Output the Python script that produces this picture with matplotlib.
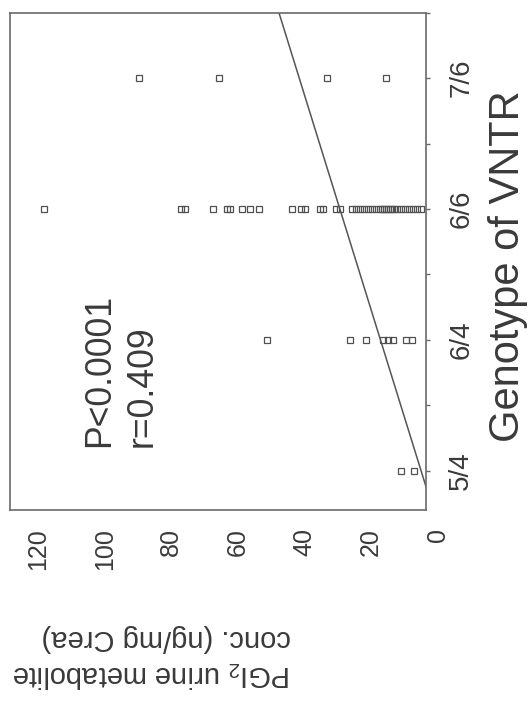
import matplotlib
matplotlib.use("Agg")
import matplotlib.pyplot as plt
import matplotlib.transforms as mtransforms
import numpy as np

plt.rcParams['font.family'] = ['Liberation Sans', 'DejaVu Sans']
plt.rcParams['mathtext.fontset'] = 'custom'
plt.rcParams['mathtext.rm'] = 'Liberation Sans'
plt.rcParams['mathtext.it'] = 'Liberation Sans:italic'

# genotype groups along the (rotated) x axis, PGI2 metabolite values per group
genotypes = ["5/4", "6/4", "6/6", "7/6"]
conc_54 = [7.6, 3.5]
conc_64 = [47.9, 22.8, 18.0, 12.8, 11.4, 9.9, 6.0, 4.3]
conc_66 = [114.8, 73.5, 72.3, 63.9, 59.8, 58.9, 55.4, 52.9, 50.2, 40.4,
           37.6, 36.4, 32.0, 31.0, 27.0, 26.0, 22.2, 21.0, 19.8, 18.6,
           17.4, 16.2, 15.0, 13.8, 13.2, 12.6, 12.0, 11.4, 10.8, 10.2,
           9.6, 8.7, 7.5, 6.3, 5.1, 3.9, 2.7, 1.5]
conc_76 = [86.4, 62.1, 29.8, 12.0]
fit_slope = 12.2
fit_intercept = -10.7
conc_ticks = [0, 20, 40, 60, 80, 100, 120]

ink = '#3a3a3a'
frame = '#6a6a6a'

fig = plt.figure(figsize=(5.29, 7.06), dpi=100)
ax = fig.add_axes([0.019, 0.2776, 0.7864, 0.7044])

groups = [conc_54, conc_64, conc_66, conc_76]
for i, vals in enumerate(groups):
    ax.plot(vals, [i + 1] * len(vals), ls='none', marker='s', ms=3.8,
            mfc='none', mec='#505050', mew=0.9)

g = np.array([-fit_intercept / fit_slope, 4.5])
ax.plot(fit_intercept + fit_slope * g, g, color='#555555', lw=1.1)

ax.set_xlim(125, 0)
ax.set_ylim(0.7, 4.5)

for sp in ax.spines.values():
    sp.set_color(frame)
    sp.set_linewidth(1.2)

ax.set_xticks(conc_ticks)
ax.tick_params(axis='x', length=0, pad=13, labelsize=18, labelrotation=90,
               labelcolor=ink)
offset = mtransforms.ScaledTranslation(11.5 / 100, 0, fig.dpi_scale_trans)
for lab in ax.get_xticklabels():
    lab.set_transform(lab.get_transform() + offset)

ax.yaxis.tick_right()
ax.set_yticks([1, 2, 3, 4], genotypes)
ax.set_yticks([1.5, 2.5, 3.5, 4.5], minor=True)
ax.tick_params(axis='y', which='both', direction='out', length=3, width=1,
               color=frame, labelsize=20, pad=13, labelrotation=90,
               labelcolor=ink)
for lab in ax.get_yticklabels():
    lab.set_va('center')

ax.text(103.4, 1.183, "P<0.0001\nr=0.409", rotation=90, ha='left',
        va='bottom', ma='left', fontsize=25.7, color=ink, linespacing=1.3)

fig.text(508 / 529, 1 - 266 / 706, "Genotype of VNTR", rotation=90,
         ha='center', va='center', fontsize=30, color=ink)

fig.text(0.287, 0.0694, "PGI$_\\mathrm{2}$ urine metabolite\nconc. (ng/mg Crea)",
         rotation=180, ha='center', va='center', ma='left', fontsize=21,
         color=ink, linespacing=1.3)

fig.savefig("out.png", dpi=100)
